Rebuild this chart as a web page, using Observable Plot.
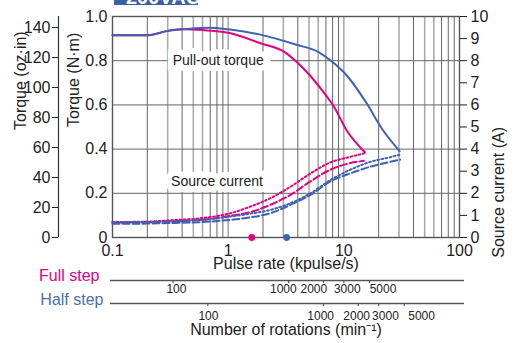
<!DOCTYPE html>
<html>
<head>
<meta charset="utf-8">
<script src="https://cdn.jsdelivr.net/npm/d3@7"></script>
<script src="https://cdn.jsdelivr.net/npm/@observablehq/plot@0.6"></script>
<style>
  html, body { margin: 0; padding: 0; background: #fff; }
  #wrap { position: relative; width: 518px; height: 343px; overflow: hidden; }
  #wrap svg { position: absolute; left: 0; top: 0; }
  #badge { position: absolute; left: 114px; top: 0; width: 84px; height: 5px; background: #3d5fa8; overflow: hidden; }
  #badge span { position: absolute; left: 12px; top: -13px; color: #fff; font: bold 20px/20px "Liberation Sans Narrow", "Liberation Sans", sans-serif; white-space: nowrap; }
</style>
</head>
<body>
<div id="wrap"><div id="badge"><span>200VAC</span></div></div>
<script>
// ---- data ----
// Pull-out torque (N·m) vs pulse rate (kpulse/s)
const pulloutFull = [[0.1,0.915],[0.2,0.915],[0.3,0.935],[0.4,0.942],[0.5,0.941],[0.7,0.936],[1,0.926],[1.9,0.879],[3.1,0.838],[3.94,0.793],[5.1,0.733],[7.2,0.635],[8.1,0.597],[10.6,0.484],[15.2,0.386]];
const pulloutHalf = [[0.1,0.915],[0.2,0.915],[0.3,0.935],[0.45,0.944],[0.7,0.949],[1,0.942],[1.9,0.918],[3.9,0.872],[6.1,0.838],[7.9,0.796],[10.6,0.733],[15.8,0.606],[21.3,0.493],[30.4,0.39]];
// Source current (A) vs pulse rate (kpulse/s)
const currentFullDotted = [[0.1,0.7],[0.2,0.72],[0.35,0.79],[0.6,0.88],[1.05,1.1],[1.56,1.4],[2.32,1.78],[3.46,2.3],[5.15,2.9],[7.66,3.4],[11.4,3.65],[14.9,3.8]];
const currentFullDashed = [[0.1,0.68],[0.2,0.7],[0.35,0.74],[0.6,0.8],[1.05,0.98],[1.56,1.15],[2.32,1.48],[3.46,1.93],[5.15,2.54],[7.66,3.07],[11.4,3.37],[14.9,3.47]];
const currentHalfDotted = [[0.1,0.68],[0.2,0.7],[0.35,0.73],[0.6,0.8],[1.05,0.95],[1.56,1.08],[2.32,1.25],[3.46,1.55],[5.15,2.0],[7.66,2.6],[11.4,3.07],[16.9,3.42],[25,3.63],[30.7,3.75]];
const currentHalfDashed = [[0.1,0.62],[0.2,0.63],[0.35,0.66],[0.6,0.7],[1.05,0.8],[1.56,0.91],[2.32,1.1],[3.46,1.48],[5.15,1.93],[7.66,2.54],[11.4,2.9],[16.9,3.2],[25,3.42],[30.7,3.52]];
// markers on the pulse-rate axis
const fullMarker = [1.6];
const halfMarker = [3.2];
// tick labels
const pulseTicks = [0.1, 1, 10, 100];
const nmTicks = [0, 0.2, 0.4, 0.6, 0.8, 1.0];
const ozTicks = [0, 20, 40, 60, 80, 100, 120, 140];
const ampTicks = [0, 1, 2, 3, 4, 5, 6, 7, 8, 9, 10];
const fullRpmTicks = [100, 1000, 2000, 3000, 5000];
const halfRpmTicks = [100, 1000, 2000, 3000, 5000];
// where each rpm label sits along the pulse-rate scale (kpulse/s)
const fullRpmLabelAt = [0.357, 3.0, 5.5, 10.7, 21.8];
const halfRpmLabelAt = [0.675, 6.3, 12.9, 22.9, 47];
const gridLight = [0.3, 0.5, 0.6, 1, 3, 5, 6, 10, 30, 50, 60];
const gridDark = [0.2, 0.4, 0.7, 0.8, 0.9, 2, 4, 7, 8, 9, 20, 40, 70, 80, 90];
const gridY = [0.2, 0.4, 0.6, 0.8];
// annotation labels
const labels = [
  {text: "Pull-out torque", x: 0.82, y: 0.8},
  {text: "Source current", x: 0.8, y: 0.255}
];
// unit relations
const ozPerNm = 140 / 0.95;      // 140 oz·in sits at 0.95 N·m on the drawing
const ampPerNm = 10;             // 10 A ↔ 1.0 N·m
const fullRpmPerKpps = 300;      // full step: 1 kpulse/s = 300 min⁻¹
const halfRpmPerKpps = 150;      // half step: 1 kpulse/s = 150 min⁻¹

const PINK = "#e4007f";
const BLUE = "#3f62b0";
const GRID = "#666";
const TITLE_FONT = '"Liberation Sans", Arial, sans-serif';
const PLOT_H = 343 - 16 - 106;   // inner frame height in px

const fullLabels = fullRpmTicks.map((r, i) => ({rpm: r, at: fullRpmLabelAt[i]}));
const halfLabels = halfRpmTicks.map((r, i) => ({rpm: r, at: halfRpmLabelAt[i]}));

const chart = Plot.plot({
  width: 518,
  height: 343,
  marginTop: 16,
  marginRight: 59,
  marginBottom: 106,
  marginLeft: 112,
  style: {fontFamily: '"Liberation Sans Narrow", "Liberation Sans", sans-serif', fontSize: "16px", color: "#222", background: "white"},
  x: {type: "log", domain: [0.1, 100]},
  y: {domain: [0, 1]},
  marks: [
    // grid
    Plot.ruleX(gridLight, {stroke: "#aaa", strokeWidth: 1.6}),
    Plot.ruleX(gridDark, {stroke: GRID, strokeWidth: 1}),
    Plot.ruleY(gridY, {stroke: GRID, strokeWidth: 1}),
    Plot.frame({stroke: "#555", strokeWidth: 1.4}),
    // labels with white box
    Plot.text(labels, {x: "x", y: "y", text: "text", fontFamily: TITLE_FONT, fontSize: 14, fill: "#222", stroke: "white", strokeWidth: 12, strokeLinejoin: "miter"}),
    // source current
    Plot.line(currentFullDotted, {x: d => d[0], y: d => d[1] / ampPerNm, stroke: PINK, strokeWidth: 2, strokeDasharray: "1.8,2.4", curve: "monotone-x"}),
    Plot.line(currentFullDashed, {x: d => d[0], y: d => d[1] / ampPerNm, stroke: PINK, strokeWidth: 2, strokeDasharray: "7,3", curve: "monotone-x"}),
    Plot.line(currentHalfDotted, {x: d => d[0], y: d => d[1] / ampPerNm, stroke: BLUE, strokeWidth: 2, strokeDasharray: "1.8,2.4", curve: "monotone-x"}),
    Plot.line(currentHalfDashed, {x: d => d[0], y: d => d[1] / ampPerNm, stroke: BLUE, strokeWidth: 2, strokeDasharray: "7,3", curve: "monotone-x"}),
    // pull-out torque
    Plot.line(pulloutFull, {x: d => d[0], y: d => d[1], stroke: PINK, strokeWidth: 2, curve: "monotone-x"}),
    Plot.line(pulloutHalf, {x: d => d[0], y: d => d[1], stroke: BLUE, strokeWidth: 2, curve: "monotone-x"}),
    // markers
    Plot.dot(fullMarker, {x: d => d, y: 0, r: 3.4, fill: PINK}),
    Plot.dot(halfMarker, {x: d => d, y: 0, r: 3.4, fill: BLUE}),
    // N·m axis
    Plot.axisY(nmTicks, {anchor: "left", label: null, tickSize: 0, tickPadding: 5, tickFormat: d => d === 0 ? "0" : d.toFixed(1), fontSize: 16}),
    // oz·in axis
    Plot.ruleX([0.1], {y1: 0, y2: 1, dx: -54, stroke: "#333", strokeWidth: 1.2}),
    Plot.axisY(ozTicks.map(v => v / ozPerNm), {anchor: "left", label: null, dx: -54, tickSize: 6, tickPadding: 2, tickFormat: d => String(Math.round(d * ozPerNm)), fontSize: 16}),
    // ampere axis
    Plot.axisY(ampTicks.map(a => a / ampPerNm), {anchor: "right", label: null, tickSize: 7, tickPadding: 4, tickFormat: d => String(Math.round(d * ampPerNm)), fontSize: 16}),
    // pulse rate axis
    Plot.axisX(pulseTicks, {anchor: "bottom", label: null, tickSize: 0, tickPadding: 7, tickFormat: d => d === 0.1 ? "0.1" : String(d), fontSize: 16}),
    Plot.text(["Pulse rate (kpulse/s)"], {frameAnchor: "bottom", dy: 31, fontFamily: TITLE_FONT, fontSize: 16}),
    // full step rotation axis
    Plot.ruleY([0], {dy: 43, insetLeft: -2, insetRight: -5, stroke: "#555", strokeWidth: 1.3}),
    Plot.ruleX(fullRpmTicks, {x: r => r / fullRpmPerKpps, insetTop: PLOT_H - 3, dy: 46, stroke: "#555", strokeWidth: 1.2}),
    Plot.text(fullLabels, {x: "at", frameAnchor: "bottom", dy: 55, text: d => String(d.rpm), fontSize: 12, fill: "#222"}),
    Plot.text(["Full step"], {frameAnchor: "bottom-left", dx: -13, dy: 43, textAnchor: "end", fill: PINK, fontFamily: TITLE_FONT, fontSize: 16}),
    // half step rotation axis
    Plot.ruleY([0], {dy: 66, insetLeft: -2, insetRight: -5, stroke: "#555", strokeWidth: 1.3}),
    Plot.ruleX(halfRpmTicks, {x: r => r / halfRpmPerKpps, insetTop: PLOT_H - 3, dy: 69, stroke: "#555", strokeWidth: 1.2}),
    Plot.text(halfLabels, {x: "at", frameAnchor: "bottom", dy: 82, text: d => String(d.rpm), fontSize: 12, fill: "#222"}),
    Plot.text(["Half step"], {frameAnchor: "bottom-left", dx: -9, dy: 67, textAnchor: "end", fill: "#4a6fb5", fontFamily: TITLE_FONT, fontSize: 16}),
    Plot.text(["Number of rotations (min⁻¹)"], {frameAnchor: "bottom", dy: 97, fontFamily: TITLE_FONT, fontSize: 16}),
    // rotated axis titles
    Plot.text(["Torque (N·m)"], {frameAnchor: "left", dx: -39, rotate: -90, fontFamily: TITLE_FONT, fontSize: 16}),
    Plot.text(["Torque (oz·in)"], {frameAnchor: "left", dx: -92, dy: 3, rotate: -90, fontFamily: TITLE_FONT, fontSize: 16}),
    Plot.text(["Source current (A)"], {frameAnchor: "right", dx: 39, rotate: -90, fontFamily: TITLE_FONT, fontSize: 16})
  ]
});
document.getElementById("wrap").insertBefore(chart, document.getElementById("badge"));
</script>
</body>
</html>
